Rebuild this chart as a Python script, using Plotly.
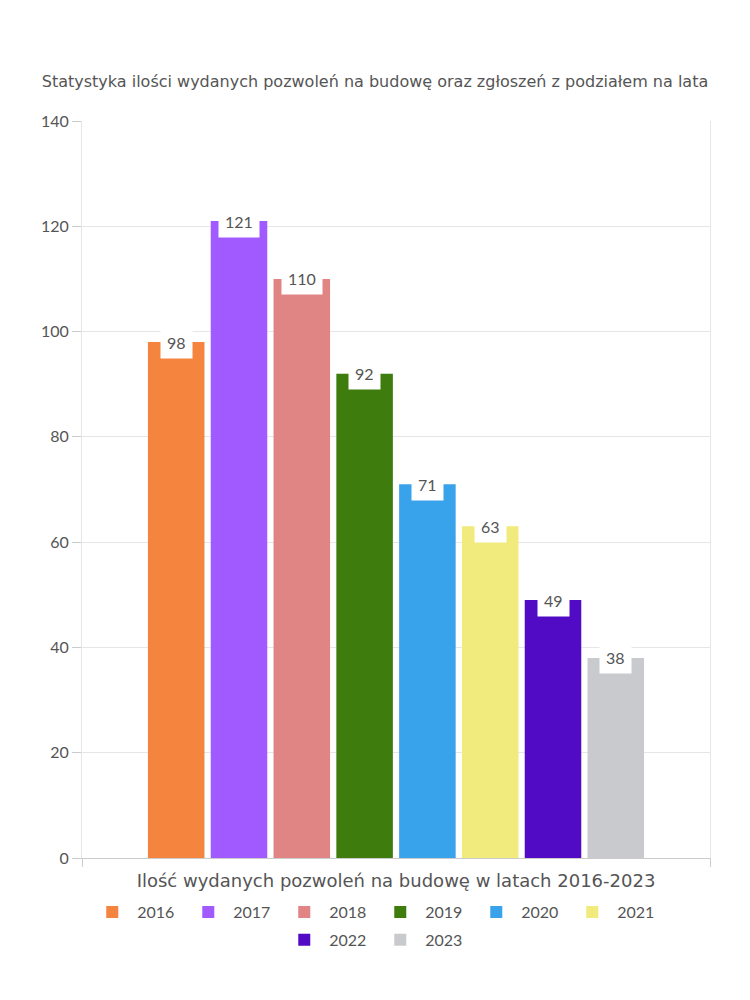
import plotly.graph_objects as go

category = ["Ilość wydanych pozwoleń na budowę w latach 2016-2023"]
years = ["2016", "2017", "2018", "2019", "2020", "2021", "2022", "2023"]
values = [98, 121, 110, 92, 71, 63, 49, 38]
colors = ["#F5843F", "#A05AFF", "#E08484", "#3E7C0E", "#38A3EB", "#F0EB7C", "#510BC4", "#C9CACD"]
legend_groups = ["legend", "legend", "legend", "legend", "legend", "legend", "legend2", "legend2"]

title = "Statystyka ilości wydanych pozwoleń na budowę oraz zgłoszeń z podziałem na lata"
FONT = "Lato"
WIDE = "DejaVu Sans"
TXT = "#555555"

bargap = 0.2
bargroupgap = 0.1

fig = go.Figure()
for y, v, c, lg in zip(years, values, colors, legend_groups):
    fig.add_trace(go.Bar(x=category, y=[v], name=y, marker=dict(color=c, line=dict(width=0)),
                         legend=lg, hoverinfo="y+name"))

n = len(years)
slot = (1 - bargap) / n
for i, v in enumerate(values):
    xc = -(1 - bargap) / 2 + slot * (i + 0.5)
    fig.add_annotation(x=xc, y=v, xref="x", yref="y", text=str(v), showarrow=False,
                       yanchor="middle", xanchor="center",
                       bgcolor="white", borderpad=6,
                       font=dict(family=FONT, size=16, color=TXT))

legend_common = dict(orientation="h", xanchor="center", yanchor="middle",
                     font=dict(family=FONT, size=16, color=TXT), itemwidth=40,
                     entrywidth=41, traceorder="normal", bgcolor="rgba(0,0,0,0)")

fig.update_layout(
    width=750, height=1000,
    margin=dict(l=82, r=40, t=121, b=142),
    paper_bgcolor="white", plot_bgcolor="white",
    barmode="group", bargap=bargap, bargroupgap=bargroupgap,
    font=dict(family=FONT, color=TXT),
    title=dict(text=title, x=0.5, xanchor="center", y=0.919, yanchor="middle",
               font=dict(family=WIDE, size=16, color=TXT)),
    legend=dict(x=0.467, y=-0.0733, **legend_common),
    legend2=dict(x=0.467, y=-0.111, **legend_common),
)
fig.update_xaxes(type="category", range=[-0.5, 0.5], showline=True, linecolor="#cccccc",
                 ticks="outside", tickson="boundaries", ticklen=8, tickcolor="#cccccc",
                 ticklabelstandoff=6,
                 tickfont=dict(family=WIDE, size=18, color=TXT), showgrid=False)
fig.update_yaxes(range=[0, 140], dtick=20, showgrid=True, gridcolor="#e6e6e6",
                 showline=True, mirror=True, linecolor="#e6e6e6", zeroline=False,
                 ticks="outside", ticklen=9, tickcolor="#cccccc",
                 tickfont=dict(family=FONT, size=16, color=TXT))

fig.write_html("out.html")
